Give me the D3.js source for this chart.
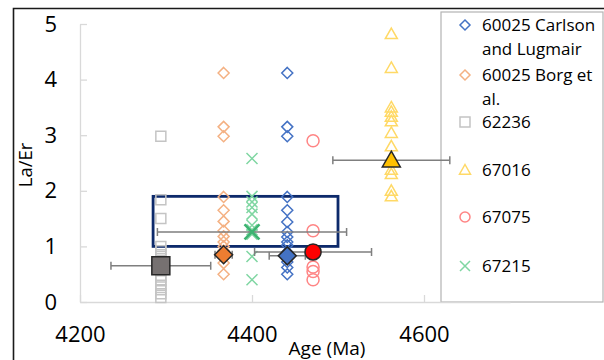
<!DOCTYPE html>
<html>
<head>
<meta charset="utf-8">
<script src="https://cdn.jsdelivr.net/npm/d3@7"></script>
<style>
  body { margin: 0; background: #fff; }
  text { font-family: "Open Sans", "Noto Sans", sans-serif; fill: #000; }
</style>
</head>
<body>
<script>
// axis setup
var xDomain = [4200, 4700];
var yDomain = [0, 5];
var xTicks = [4200, 4400, 4600];
var yTicks = [0, 1, 2, 3, 4, 5];

// ages (Ma) of each sample column
var ageCarlson = 4441, ageBorg = 4367, age62236 = 4294,
    age67016 = 4562, age67075 = 4471, age67215 = 4400;

// La/Er values
var carlson = [4.12, 3.15, 2.98, 1.89, 1.65, 1.44, 1.26, 1.17, 1.08, 1.02, 0.9, 0.72, 0.62, 0.5];
var borg    = [4.12, 3.15, 2.98, 1.89, 1.65, 1.45, 1.28, 1.18, 1.08, 1.0, 0.92, 0.7, 0.5];
var s62236  = [2.98, 1.84, 1.5, 1.0, 0.92, 0.85, 0.78, 0.7, 0.45, 0.38, 0.3, 0.22, 0.15, 0.08];
var s67016  = [4.82, 4.21, 3.5, 3.42, 3.33, 3.25, 3.04, 2.8, 2.55, 2.38, 2.3, 2.0, 1.9];
var s67075  = [2.9, 1.28, 0.63, 0.55, 0.4];
var s67215  = [2.58, 1.9, 1.8, 1.7, 1.58, 1.38, 1.3, 1.22, 0.82, 0.4];

// means with age uncertainty
var meanNames = ["62236", "borg", "carlson", "67075", "67016", "67215"];
var meanAges  = [4294, 4367, 4441, 4471, 4562, 4400];
var meanVals  = [0.65, 0.85, 0.83, 0.9, 2.55, 1.26];
var meanErr   = [58, 10, 21, 68, 68, 110];

// box
var boxAge = [4285, 4500];
var boxVal = [1.0, 1.9];

var legendLabels = [["60025 Carlson", "and Lugmair"], ["60025 Borg et", "al."], ["62236"], ["67016"], ["67075"], ["67215"]];

var w = 604, h = 360;

var x = d3.scaleLinear().domain(xDomain).range([80, 510]);
var y = d3.scaleLinear().domain(yDomain).range([302, 24]);

var svg = d3.select("body").append("svg")
	.attr("width", w)
	.attr("height", h);

function shape(type, s) {
	if (type == "diamond") return "M0," + (-s) + "L" + s + ",0L0," + s + "L" + (-s) + ",0Z";
	if (type == "square") return "M" + (-s) + "," + (-s) + "h" + (2 * s) + "v" + (2 * s) + "h" + (-2 * s) + "Z";
	if (type == "triangle") return "M0," + (-s) + "L" + s + "," + (s * 0.75) + "L" + (-s) + "," + (s * 0.75) + "Z";
	if (type == "circle") return "M" + s + ",0A" + s + "," + s + " 0 1,1 " + (-s) + ",0A" + s + "," + s + " 0 1,1 " + s + ",0Z";
	return "M" + (-s) + "," + (-s) + "L" + s + "," + s + "M" + (-s) + "," + s + "L" + s + "," + (-s);
}

var styles = {
	carlson: { type: "diamond", c: "#4472C4", s: 5.5 },
	borg:    { type: "diamond", c: "#F4B183", s: 5.5 },
	"62236": { type: "square", c: "#C4C4C4", s: 5 },
	"67016": { type: "triangle", c: "#FFD966", s: 6 },
	"67075": { type: "circle", c: "#FF8585", s: 6 },
	"67215": { type: "x", c: "#7FD6A2", s: 5.5 }
};
var meanStyles = {
	carlson: { type: "diamond", fill: "#4472C4", s: 9 },
	borg:    { type: "diamond", fill: "#ED7D31", s: 9 },
	"62236": { type: "square", fill: "#767171", s: 9 },
	"67016": { type: "triangle", fill: "#FFC000", s: 9 },
	"67075": { type: "circle", fill: "#FF0000", s: 8 },
	"67215": { type: "x", fill: "#3CB371", s: 7.5 }
};

// outer frame
svg.append("path")
	.attr("d", "M13.5,360V8.5H604")
	.attr("fill", "none")
	.attr("stroke", "#1a1a1a")
	.attr("stroke-width", 1.6);

// legend box
svg.append("rect")
	.attr("x", 441).attr("y", 12)
	.attr("width", 162).attr("height", 290)
	.attr("fill", "none")
	.attr("stroke", "#B3B3B3")
	.attr("stroke-width", 1.2);

// axes
var fmt = d3.format("d");
var yAxis = svg.append("g")
	.attr("transform", "translate(80,0)")
	.call(d3.axisLeft(y).tickValues(yTicks).tickFormat(fmt).tickSizeInner(-7).tickSizeOuter(0).tickPadding(23));
var xAxis = svg.append("g")
	.attr("transform", "translate(0,302)")
	.call(d3.axisBottom(x).tickValues(xTicks).tickFormat(fmt).tickSizeInner(-7).tickSizeOuter(0).tickPadding(24));
[xAxis, yAxis].forEach(function(a) {
	a.selectAll("path, line").attr("stroke", "#D9D9D9").attr("stroke-width", 1.3);
	a.selectAll("text").attr("font-size", "22px").attr("fill", "#000")
		.attr("font-family", "'Open Sans', sans-serif");
});

svg.append("text")
	.attr("x", 327).attr("y", 355)
	.attr("text-anchor", "middle")
	.attr("font-size", "19px")
	.text("Age (Ma)");
svg.append("text")
	.attr("transform", "translate(32,165) rotate(-90)")
	.attr("text-anchor", "middle")
	.attr("font-size", "18.5px")
	.text("La/Er");

// box
svg.append("rect")
	.attr("x", x(boxAge[0]))
	.attr("y", y(boxVal[1]))
	.attr("width", x(boxAge[1]) - x(boxAge[0]))
	.attr("height", y(boxVal[0]) - y(boxVal[1]))
	.attr("fill", "none")
	.attr("stroke", "#0D2A6B")
	.attr("stroke-width", 2.8);

// individual points
var series = [
	{ key: "62236", age: age62236, vals: s62236 },
	{ key: "borg", age: ageBorg, vals: borg },
	{ key: "67215", age: age67215, vals: s67215 },
	{ key: "carlson", age: ageCarlson, vals: carlson },
	{ key: "67075", age: age67075, vals: s67075 },
	{ key: "67016", age: age67016, vals: s67016 }
];
series.forEach(function(sr) {
	var st = styles[sr.key];
	svg.append("g").selectAll("path")
		.data(sr.vals)
		.enter()
		.append("path")
		.attr("transform", function(d) { return "translate(" + x(sr.age) + "," + y(d) + ")"; })
		.attr("d", shape(st.type, st.s))
		.attr("fill", "none")
		.attr("stroke", st.c)
		.attr("stroke-width", 1.5);
});

// error bars
var means = meanNames.map(function(n, i) {
	return { key: n, age: meanAges[i], val: meanVals[i], err: meanErr[i] };
});
var eb = svg.append("g").attr("stroke", "#7F7F7F").attr("stroke-width", 1.5).attr("fill", "none");
means.forEach(function(m) {
	var yy = y(m.val), x0 = x(m.age - m.err), x1 = x(m.age + m.err);
	eb.append("path").attr("d", "M" + x0 + "," + yy + "H" + x1 +
		"M" + x0 + "," + (yy - 4) + "V" + (yy + 4) +
		"M" + x1 + "," + (yy - 4) + "V" + (yy + 4));
});

// mean markers
svg.append("g").selectAll("path")
	.data(means)
	.enter()
	.append("path")
	.attr("transform", function(d) { return "translate(" + x(d.age) + "," + y(d.val) + ")"; })
	.attr("d", function(d) { return shape(meanStyles[d.key].type, meanStyles[d.key].s); })
	.attr("fill", function(d) { return meanStyles[d.key].type == "x" ? "none" : meanStyles[d.key].fill; })
	.attr("stroke", function(d) { return meanStyles[d.key].type == "x" ? meanStyles[d.key].fill : "#262626"; })
	.attr("stroke-width", function(d) { return meanStyles[d.key].type == "x" ? 2.5 : 1.5; });

// legend
var legendKeys = ["carlson", "borg", "62236", "67016", "67075", "67215"];
var legendRowY = [25, 75, 122, 170, 217, 266];
var leg = svg.append("g");
legendKeys.forEach(function(k, i) {
	var st = styles[k];
	leg.append("path")
		.attr("transform", "translate(465," + legendRowY[i] + ")")
		.attr("d", shape(st.type, st.type == "triangle" ? 5.5 : 5))
		.attr("fill", "none")
		.attr("stroke", st.c)
		.attr("stroke-width", 1.5);
	legendLabels[i].forEach(function(line, j) {
		leg.append("text")
			.attr("x", 482)
			.attr("y", legendRowY[i] + j * 24)
			.attr("dy", "0.36em")
			.attr("font-size", "17px")
			.text(line);
	});
});
</script>
</body>
</html>
